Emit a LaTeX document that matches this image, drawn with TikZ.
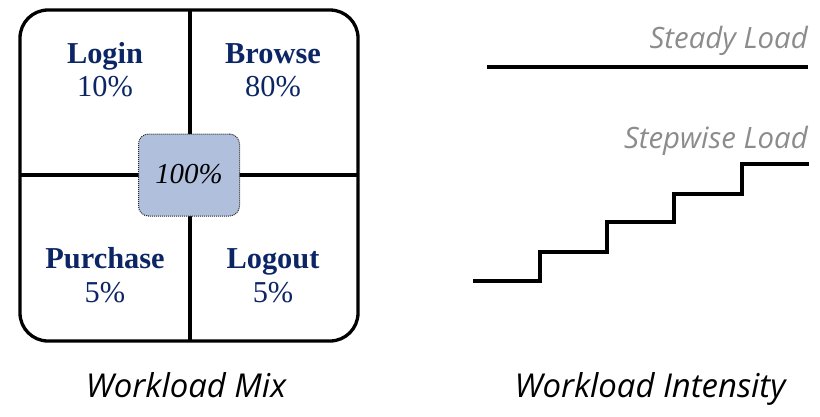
\documentclass[tikz,border=0pt]{standalone}
\usepackage{fontspec}
\setmainfont{Liberation Serif}
\newfontfamily\capfont{Open Sans}
\usepackage[x11names, svgnames, rgb]{xcolor}
\usepackage{tikz}
\usetikzlibrary{positioning, calc}

\definecolor{mixnavy}{RGB}{12,37,100}
\definecolor{mixfill}{RGB}{176,192,220}
\definecolor{loadgray}{RGB}{140,140,140}

\tikzset{
  cellname/.style={font=\fontsize{30.5}{32}\selectfont\bfseries, text=mixnavy, inner sep=0pt, anchor=base},
  cellpct/.style={font=\fontsize{30.5}{32}\selectfont, text=mixnavy, inner sep=0pt, anchor=base},
  loadname/.style={font=\capfont\itshape\fontsize{29.5}{32}\selectfont, text=loadgray, inner sep=0pt, anchor=base east},
  caption/.style={font=\capfont\itshape\fontsize{33}{36}\selectfont, inner sep=0pt, anchor=base},
  thick line/.style={line width=3.3bp, line join=miter}
}

\begin{document}
\begin{tikzpicture}[x=1bp,y=-1bp]
  \useasboundingbox (0,0) rectangle (820,416);
%%
  % Node: mix frame
  \draw [thick line, rounded corners=28bp] (20,10) rectangle (358,341);
  \coordinate (top) at (190,10);
  \coordinate (bottom) at (190,341);
  \coordinate (left) at (20,175);
  \coordinate (right) at (358,175);
  % Edge: top -- bottom, left -- right
  \draw [thick line] (top) -- (bottom);
  \draw [thick line] (left) -- (right);
  % Node: center
  \node [draw=black!85, densely dotted, line width=1bp, fill=mixfill,
         rounded corners=10bp, minimum width=101bp, minimum height=82bp,
         inner sep=0pt] (total) at (189,175) {};
  \node [font=\fontsize{29}{32}\selectfont\itshape, inner sep=0pt, anchor=base]
        (totaltext) at (189,183) {100\%};
  % Node: cells
  \node [cellname] (login)    at (105,63)  {Login};
  \node [cellpct]  (loginp)   at (105,96)  {10\%};
  \node [cellname] (browse)   at (273,63)  {Browse};
  \node [cellpct]  (browsep)  at (273,96)  {80\%};
  \node [cellname] (purchase) at (105,268) {Purchase};
  \node [cellpct]  (purchasep) at (105,302) {5\%};
  \node [cellname] (logout)   at (273,268) {Logout};
  \node [cellpct]  (logoutp)  at (273,302) {5\%};
%%
  % Node: steady load
  \node [loadname] (steady) at (808,48) {Steady Load};
  \coordinate (s0) at (487,67);
  \coordinate (s1) at (808,67);
  \draw [thick line] (s0) -- (s1);
  % Node: stepwise load
  \node [loadname] (stepwise) at (808,148) {Stepwise Load};
  \coordinate (w0) at (473,281);
  \coordinate (w1) at (540,252);
  \coordinate (w2) at (607,222);
  \coordinate (w3) at (674,194);
  \coordinate (w4) at (742,164);
  \coordinate (w5) at (809,164);
  \draw [thick line] (w0) -| (w1) -| (w2) -| (w3) -| (w4) -- (w5);
%%
  % Node: captions
  \node [caption] (mixcap) at (186,397) {Workload Mix};
  \node [caption] (intcap) at (650,397) {Workload Intensity};
\end{tikzpicture}
\end{document}
